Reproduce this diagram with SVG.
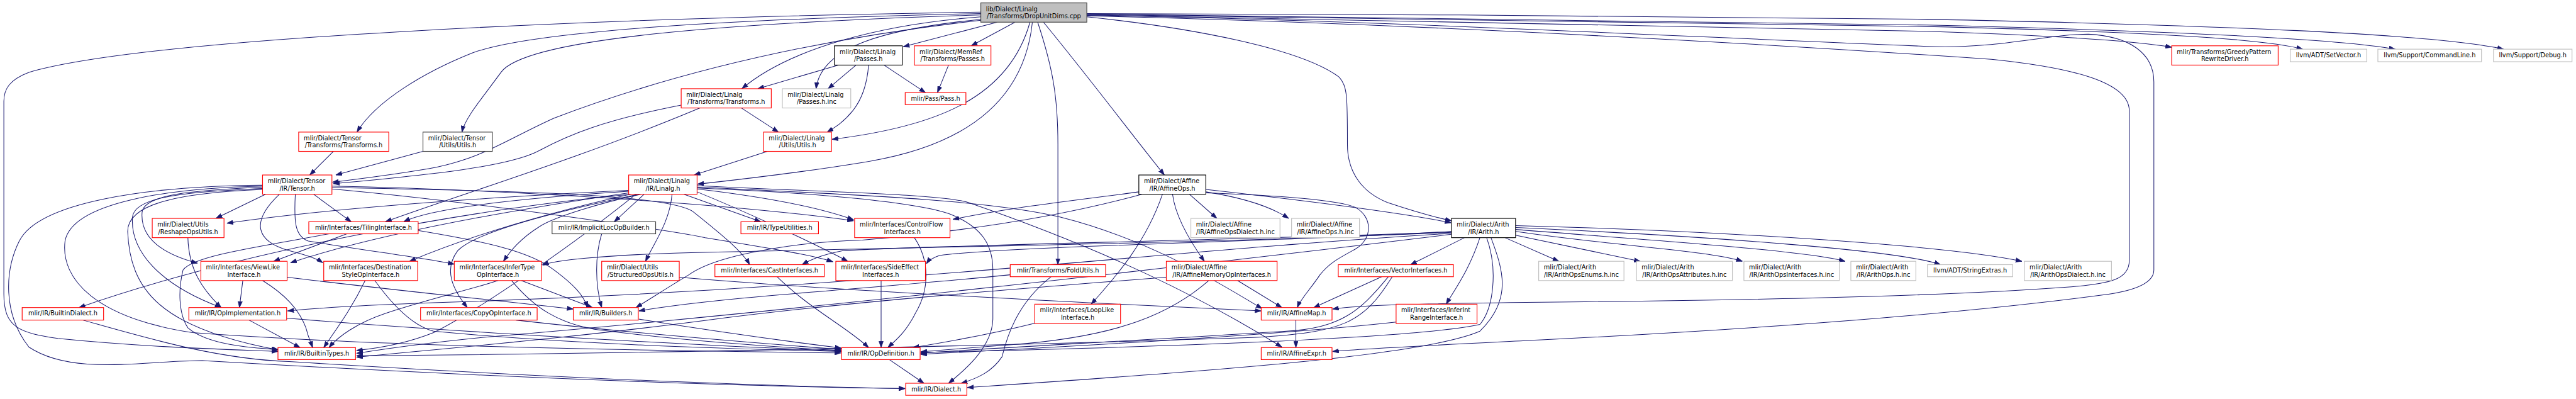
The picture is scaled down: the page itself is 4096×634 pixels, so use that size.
<svg xmlns="http://www.w3.org/2000/svg" width="4096" height="634" viewBox="0 0 4096 634">
<defs>
<marker id="arr" viewBox="0 0 13 10" refX="13" refY="5" markerWidth="13" markerHeight="10" markerUnits="userSpaceOnUse" orient="auto"><path d="M0,0.5 L13,5 L0,9.5 Z" fill="#191970" stroke="#191970" stroke-width="1"/></marker>
</defs>
<style>
.n rect{fill:#fff;stroke-width:1.5}
.r rect{stroke:#ff0000}
.g rect{stroke:#bfbfbf}
.k rect{stroke:#000}
.d rect{stroke:#404040}
.root rect{fill:#bfbfbf;stroke:#404040}
text{font-family:"DejaVu Sans","Liberation Sans",sans-serif;font-size:12.8px;fill:#000}
.m{text-anchor:middle}
#edges path{fill:none;stroke:#191970;stroke-width:1.35;marker-end:url(#arr)}
</style>
<rect width="4096" height="634" fill="#fff"/>
<g transform="scale(0.766)">
<g id="edges">
<path d="M2070,46 L1875,97"/>
<path d="M2107,46 L2016,95"/>
<path d="M2036,40 C1840,60 1705,95 1694,184"/>
<path d="M2036,35 C1830,50 1640,100 1540,184"/>
<path d="M2138,46 C2095,200 1950,262 1727,289"/>
<path d="M2143,46 C2128,190 2030,300 1790,337 C1650,360 1520,374 1448,382"/>
<path d="M2036,28 C1500,40 1100,65 980,110 C880,150 780,210 741,274"/>
<path d="M2036,31 C1500,48 1090,80 1040,150 C1000,205 965,245 959,274"/>
<path d="M2036,42 C1700,80 1400,150 1150,245 C1050,290 1000,330 890,350 C800,365 740,372 690,378"/>
<path d="M2036,25 C1200,38 300,80 60,150 C20,165 8,185 8,210 L8,610 C8,680 40,690 120,702 C300,720 450,724 577,729"/>
<path d="M2166,46 C2260,160 2350,280 2417,363"/>
<path d="M2154,46 C2185,140 2196,200 2196,300 L2196,549"/>
<path d="M2256,35 C2470,57 2700,100 2780,160 C2797,180 2797,200 2797,300 C2797,360 2830,400 2880,420 C2940,440 2985,452 3013,458"/>
<path d="M2256,33 C2800,45 3500,80 4134,123 C4300,140 4420,170 4420,230 L4420,540 C4420,580 4380,588 4300,595 C4000,618 3500,624 3200,627 C2950,630 2830,632 2766,641"/>
<path d="M2256,32 C2800,40 3400,72 4019,97 C4150,100 4250,71 4335,71 C4420,75 4471,110 4471,170 L4471,560 C4471,590 4420,605 4364,612 C4000,660 3500,690 3200,705 C3000,715 2850,722 2766,729"/>
<path d="M2256,31 C2800,38 3400,50 4000,65 C4300,75 4450,88 4508,98"/>
<path d="M2256,30 C2800,35 3400,42 4000,55 C4450,66 4700,80 4780,102"/>
<path d="M2256,29 C2800,33 3400,40 4000,52 C4500,64 4850,80 4972,102"/>
<path d="M2256,28 C2800,30 3500,32 4000,40 C4600,52 5050,70 5197,102"/>
<path d="M1835,135 L1921,192"/>
<path d="M1777,135 L1719,184"/>
<path d="M1740,135 L1573,184"/>
<path d="M1803,135 C1800,175 1790,205 1770,230 C1750,255 1730,266 1717,274"/>
<path d="M1969,135 L1946,192"/>
<path d="M1539,224 L1616,274"/>
<path d="M1414,218 C1250,250 1180,280 1120,312 C1060,345 900,362 692,381"/>
<path d="M1453,224 C1200,330 950,405 800,460"/>
<path d="M1593,314 L1441,363"/>
<path d="M692,314 L643,363"/>
<path d="M878,314 L697,363"/>
<path d="M551,403 L448,453"/>
<path d="M651,403 L729,460"/>
<path d="M580,403 C520,460 530,500 600,520 C640,530 660,538 670,545"/>
<path d="M613,403 C610,460 612,490 640,500 C760,520 880,535 943,548"/>
<path d="M545,388 C420,395 300,400 295,440 C290,500 350,530 410,546"/>
<path d="M545,391 C400,398 280,405 275,450 C270,520 330,590 459,638"/>
<path d="M545,393 C380,400 265,420 265,480 C270,600 330,680 578,726"/>
<path d="M545,386 C350,390 150,420 135,500 C125,580 200,660 400,690 C800,720 1400,728 1746,732"/>
<path d="M545,384 C300,386 80,420 40,500 C10,560 5,650 60,720 C150,780 300,748 420,748 C800,770 1400,800 1879,806"/>
<path d="M689,389 C1000,395 1390,400 1440,440 C1490,480 1540,520 1556,549"/>
<path d="M689,386 C1000,392 1500,420 1772,458"/>
<path d="M689,392 C1000,420 1400,480 1464,493 C1600,515 1690,530 1729,543"/>
<path d="M1305,395 C1000,410 700,430 471,463"/>
<path d="M1305,397 C1100,410 900,430 838,460"/>
<path d="M1305,400 C1100,430 800,480 603,545"/>
<path d="M1308,403 C1100,450 950,500 850,542"/>
<path d="M1310,403 C1000,430 500,520 164,638"/>
<path d="M1325,403 C1150,440 990,480 950,520 C920,560 940,600 970,638"/>
<path d="M1330,403 C1250,420 1150,450 1120,470 C1080,495 1060,520 1045,542"/>
<path d="M1337,403 L1275,460"/>
<path d="M1420,403 L1579,460"/>
<path d="M1395,403 C1390,460 1360,500 1340,542"/>
<path d="M1447,392 C1600,410 1700,430 1772,456"/>
<path d="M1447,398 C1550,440 1680,500 1760,542"/>
<path d="M1320,403 C1200,500 1000,640 900,690 C850,710 790,722 740,727"/>
<path d="M1447,390 C1700,400 1900,420 1969,443 C2040,470 2061,510 2061,560 L2061,660 C2061,720 2000,770 1969,795"/>
<path d="M1447,385 C1700,398 1950,402 2010,420 C2300,520 2500,620 2661,720"/>
<path d="M1447,388 C1800,405 2050,415 2200,450 C2400,500 2550,600 2620,640"/>
<path d="M2469,403 L2526,453"/>
<path d="M2503,398 C2580,410 2640,430 2675,453"/>
<path d="M2434,403 C2440,450 2470,500 2500,542"/>
<path d="M2413,403 C2380,500 2320,570 2265,631"/>
<path d="M2503,393 C2700,415 2900,440 3012,462"/>
<path d="M2503,400 C2650,405 2780,415 2813,430 C2850,450 2850,495 2813,517 C2780,535 2760,545 2740,570 C2720,600 2700,620 2693,638"/>
<path d="M2364,398 C2200,420 2100,430 1978,455"/>
<path d="M2370,403 C2200,450 2000,480 1790,498 C1700,500 1500,520 1430,570 C1380,600 1350,620 1320,638"/>
<path d="M3040,493 L2928,549"/>
<path d="M3072,493 C3050,560 3020,600 3002,631"/>
<path d="M3124,493 L3236,542"/>
<path d="M3146,488 L3405,542"/>
<path d="M3146,480 C3350,510 3550,520 3617,542"/>
<path d="M3146,476 C3450,500 3750,520 3830,542"/>
<path d="M3146,472 C3550,490 3950,520 4028,549"/>
<path d="M3146,468 C3600,480 4050,510 4197,542"/>
<path d="M3095,493 C3120,560 3140,620 3072,687 C2950,740 2500,770 2008,804"/>
<path d="M3086,493 C3110,560 3100,640 3072,673 C2950,700 2500,718 1911,731"/>
<path d="M3013,480 C2700,500 2100,510 1950,530 C1935,535 1928,540 1923,547"/>
<path d="M3013,482 C2500,505 1800,515 1400,525 C1250,530 1150,540 1126,550"/>
<path d="M3013,481 C2500,500 1900,510 1750,520 C1700,530 1680,540 1665,549"/>
<path d="M3013,484 C2400,520 1800,600 900,628 C750,633 650,640 597,645"/>
<path d="M3013,486 C2400,560 1600,650 1000,700 C850,715 790,725 740,733"/>
<path d="M2868,574 L2727,638"/>
<path d="M2890,574 C2830,670 2790,690 2600,700 C2000,720 1200,735 740,738"/>
<path d="M2882,574 C2820,650 2780,680 2670,687 C2300,710 2000,725 1911,733"/>
<path d="M2898,668 C2700,690 2300,715 1911,735"/>
<path d="M2569,582 L2661,638"/>
<path d="M2509,582 C2420,660 2300,700 2100,715 C2000,722 1950,727 1911,730"/>
<path d="M2421,575 C2100,600 1780,625 1500,660 C1200,700 900,725 740,741"/>
<path d="M2150,670 C2050,695 1950,712 1895,721"/>
<path d="M2182,574 C2110,630 2090,700 2080,740 C2060,770 2030,785 1995,795"/>
<path d="M2097,570 C1800,600 1500,615 1326,645"/>
<path d="M1898,493 C1930,540 1930,600 1900,650 C1880,690 1860,705 1843,721"/>
<path d="M1829,582 L1829,721"/>
<path d="M1613,574 C1680,640 1760,680 1803,721"/>
<path d="M1410,575 C1700,600 2100,620 2300,630 C2450,637 2550,642 2618,645"/>
<path d="M1082,582 L1230,638"/>
<path d="M1034,582 C980,600 900,617 800,650 C740,670 700,700 683,721"/>
<path d="M1062,582 C1110,640 1160,670 1234,683 C1400,705 1600,720 1746,727"/>
<path d="M758,582 C730,640 700,680 672,721"/>
<path d="M778,582 C820,640 860,677 900,687 C1200,715 1500,723 1746,729"/>
<path d="M504,582 L497,638"/>
<path d="M545,582 C590,610 620,640 635,680 C640,700 645,710 649,721"/>
<path d="M596,575 C800,600 1000,620 1190,641"/>
<path d="M390,493 C392,560 420,600 459,638"/>
<path d="M720,485 L568,542"/>
<path d="M868,478 C1000,500 1100,520 1150,560 C1190,590 1210,610 1220,638"/>
<path d="M683,485 C550,510 400,530 380,560 C370,600 370,650 390,680 C430,715 520,722 577,725"/>
<path d="M517,664 L623,721"/>
<path d="M595,660 C900,685 1400,715 1746,728"/>
<path d="M172,664 C300,700 450,745 600,750 C1000,775 1500,800 1879,806"/>
<path d="M1071,664 C1300,690 1550,710 1746,725"/>
<path d="M1326,662 C1500,690 1650,710 1746,722"/>
<path d="M1846,746 L1918,795"/>
<path d="M1249,485 C1235,530 1235,590 1249,638"/>
<path d="M2690,664 L2690,721"/>
</g>
<g id="n-root" class="n root"><rect x="2036" y="6" width="220" height="40"/><text x="2046.7" y="23">lib/Dialect/Linalg</text><text class="m" x="2146" y="38">/Transforms/DropUnitDims.cpp</text></g>
<g id="n-linalg-passes" class="n k"><rect x="1732" y="95" width="141" height="40"/><text x="1742.7" y="112">mlir/Dialect/Linalg</text><text class="m" x="1802.5" y="127">/Passes.h</text></g>
<g id="n-memref-passes" class="n r"><rect x="1898" y="95" width="159" height="40"/><text x="1908.7" y="112">mlir/Dialect/MemRef</text><text class="m" x="1977.5" y="127">/Transforms/Passes.h</text></g>
<g id="n-greedy" class="n r"><rect x="4508" y="95" width="221" height="40"/><text x="4518.7" y="112">mlir/Transforms/GreedyPattern</text><text class="m" x="4618.5" y="127">RewriteDriver.h</text></g>
<g id="n-setvector" class="n g"><rect x="4754" y="102" width="159" height="26"/><text class="m" x="4833.5" y="118.5">llvm/ADT/SetVector.h</text></g>
<g id="n-commandline" class="n g"><rect x="4936" y="102" width="215" height="26"/><text class="m" x="5043.5" y="118.5">llvm/Support/CommandLine.h</text></g>
<g id="n-debug" class="n g"><rect x="5176" y="102" width="163" height="26"/><text class="m" x="5257.5" y="118.5">llvm/Support/Debug.h</text></g>
<g id="n-linalg-transforms" class="n r"><rect x="1414" y="184" width="187" height="40"/><text x="1424.7" y="201">mlir/Dialect/Linalg</text><text class="m" x="1507.5" y="216">/Transforms/Transforms.h</text></g>
<g id="n-passes-inc" class="n g"><rect x="1624" y="184" width="142" height="40"/><text x="1634.7" y="201">mlir/Dialect/Linalg</text><text class="m" x="1695" y="216">/Passes.h.inc</text></g>
<g id="n-pass" class="n r"><rect x="1879" y="192" width="126" height="25"/><text class="m" x="1942" y="208.5">mlir/Pass/Pass.h</text></g>
<g id="n-tensor-transforms" class="n r"><rect x="620" y="274" width="187" height="40"/><text x="630.7" y="291">mlir/Dialect/Tensor</text><text class="m" x="713.5" y="306">/Transforms/Transforms.h</text></g>
<g id="n-tensor-utils" class="n d"><rect x="878" y="274" width="144" height="40"/><text x="888.7" y="291">mlir/Dialect/Tensor</text><text class="m" x="950" y="306">/Utils/Utils.h</text></g>
<g id="n-linalg-utils" class="n r"><rect x="1585" y="274" width="141" height="40"/><text x="1595.7" y="291">mlir/Dialect/Linalg</text><text class="m" x="1655.5" y="306">/Utils/Utils.h</text></g>
<g id="n-tensor" class="n r"><rect x="545" y="363" width="144" height="40"/><text x="555.7" y="380">mlir/Dialect/Tensor</text><text class="m" x="617" y="395">/IR/Tensor.h</text></g>
<g id="n-linalg" class="n r"><rect x="1305" y="363" width="142" height="40"/><text x="1315.7" y="380">mlir/Dialect/Linalg</text><text class="m" x="1376" y="395">/IR/Linalg.h</text></g>
<g id="n-affineops" class="n k"><rect x="2364" y="363" width="139" height="40"/><text x="2374.7" y="380">mlir/Dialect/Affine</text><text class="m" x="2433.5" y="395">/IR/AffineOps.h</text></g>
<g id="n-reshape" class="n r"><rect x="316" y="453" width="149" height="40"/><text x="326.7" y="470">mlir/Dialect/Utils</text><text class="m" x="390.5" y="485">/ReshapeOpsUtils.h</text></g>
<g id="n-tiling" class="n r"><rect x="641" y="460" width="227" height="25"/><text class="m" x="754.5" y="476.5">mlir/Interfaces/TilingInterface.h</text></g>
<g id="n-implicitloc" class="n d"><rect x="1146" y="460" width="215" height="25"/><text class="m" x="1253.5" y="476.5">mlir/IR/ImplicitLocOpBuilder.h</text></g>
<g id="n-typeutil" class="n r"><rect x="1538" y="460" width="161" height="25"/><text class="m" x="1618.5" y="476.5">mlir/IR/TypeUtilities.h</text></g>
<g id="n-controlflow" class="n r"><rect x="1774" y="453" width="198" height="40"/><text x="1784.7" y="470">mlir/Interfaces/ControlFlow</text><text class="m" x="1873" y="485">Interfaces.h</text></g>
<g id="n-affinedialect-inc" class="n g"><rect x="2472" y="453" width="185" height="40"/><text x="2482.7" y="470">mlir/Dialect/Affine</text><text class="m" x="2564.5" y="485">/IR/AffineOpsDialect.h.inc</text></g>
<g id="n-affineops-inc" class="n g"><rect x="2681" y="453" width="141" height="40"/><text x="2691.7" y="470">mlir/Dialect/Affine</text><text class="m" x="2751.5" y="485">/IR/AffineOps.h.inc</text></g>
<g id="n-arith" class="n k"><rect x="3013" y="453" width="133" height="40"/><text x="3023.7" y="470">mlir/Dialect/Arith</text><text class="m" x="3079.5" y="485">/IR/Arith.h</text></g>
<g id="n-viewlike" class="n r"><rect x="417" y="542" width="179" height="40"/><text x="427.7" y="559">mlir/Interfaces/ViewLike</text><text class="m" x="506.5" y="574">Interface.h</text></g>
<g id="n-dststyle" class="n r"><rect x="672" y="542" width="195" height="40"/><text x="682.7" y="559">mlir/Interfaces/Destination</text><text class="m" x="769.5" y="574">StyleOpInterface.h</text></g>
<g id="n-infertype" class="n r"><rect x="943" y="542" width="181" height="40"/><text x="953.7" y="559">mlir/Interfaces/InferType</text><text class="m" x="1033.5" y="574">OpInterface.h</text></g>
<g id="n-structured" class="n r"><rect x="1249" y="542" width="161" height="40"/><text x="1259.7" y="559">mlir/Dialect/Utils</text><text class="m" x="1329.5" y="574">/StructuredOpsUtils.h</text></g>
<g id="n-cast" class="n r"><rect x="1484" y="549" width="227" height="25"/><text class="m" x="1597.5" y="565.5">mlir/Interfaces/CastInterfaces.h</text></g>
<g id="n-sideeffect" class="n r"><rect x="1735" y="542" width="186" height="40"/><text x="1745.7" y="559">mlir/Interfaces/SideEffect</text><text class="m" x="1828" y="574">Interfaces.h</text></g>
<g id="n-foldutils" class="n r"><rect x="2097" y="549" width="198" height="25"/><text class="m" x="2196" y="565.5">mlir/Transforms/FoldUtils.h</text></g>
<g id="n-affinemem" class="n r"><rect x="2421" y="542" width="230" height="40"/><text x="2431.7" y="559">mlir/Dialect/Affine</text><text class="m" x="2536" y="574">/IR/AffineMemoryOpInterfaces.h</text></g>
<g id="n-vector" class="n r"><rect x="2778" y="549" width="239" height="25"/><text class="m" x="2897.5" y="565.5">mlir/Interfaces/VectorInterfaces.h</text></g>
<g id="n-enums-inc" class="n g"><rect x="3194" y="542" width="177" height="40"/><text x="3204.7" y="559">mlir/Dialect/Arith</text><text class="m" x="3282.5" y="574">/IR/ArithOpsEnums.h.inc</text></g>
<g id="n-attrs-inc" class="n g"><rect x="3397" y="542" width="199" height="40"/><text x="3407.7" y="559">mlir/Dialect/Arith</text><text class="m" x="3496.5" y="574">/IR/ArithOpsAttributes.h.inc</text></g>
<g id="n-ifaces-inc" class="n g"><rect x="3620" y="542" width="198" height="40"/><text x="3630.7" y="559">mlir/Dialect/Arith</text><text class="m" x="3719" y="574">/IR/ArithOpsInterfaces.h.inc</text></g>
<g id="n-arithops-inc" class="n g"><rect x="3842" y="542" width="135" height="40"/><text x="3852.7" y="559">mlir/Dialect/Arith</text><text class="m" x="3909.5" y="574">/IR/ArithOps.h.inc</text></g>
<g id="n-stringextras" class="n g"><rect x="4001" y="549" width="177" height="25"/><text class="m" x="4089.5" y="565.5">llvm/ADT/StringExtras.h</text></g>
<g id="n-arithdialect-inc" class="n g"><rect x="4202" y="542" width="181" height="40"/><text x="4212.7" y="559">mlir/Dialect/Arith</text><text class="m" x="4292.5" y="574">/IR/ArithOpsDialect.h.inc</text></g>
<g id="n-builtindialect" class="n r"><rect x="46" y="638" width="169" height="26"/><text class="m" x="130.5" y="654.5">mlir/IR/BuiltinDialect.h</text></g>
<g id="n-opimpl" class="n r"><rect x="392" y="638" width="203" height="26"/><text class="m" x="493.5" y="654.5">mlir/IR/OpImplementation.h</text></g>
<g id="n-copyop" class="n r"><rect x="873" y="638" width="242" height="26"/><text class="m" x="994" y="654.5">mlir/Interfaces/CopyOpInterface.h</text></g>
<g id="n-builders" class="n r"><rect x="1190" y="638" width="135" height="26"/><text class="m" x="1257.5" y="654.5">mlir/IR/Builders.h</text></g>
<g id="n-looplike" class="n r"><rect x="2148" y="631" width="178" height="40"/><text x="2158.7" y="648">mlir/Interfaces/LoopLike</text><text class="m" x="2237" y="663">Interface.h</text></g>
<g id="n-affinemap" class="n r"><rect x="2618" y="638" width="147" height="26"/><text class="m" x="2691.5" y="654.5">mlir/IR/AffineMap.h</text></g>
<g id="n-inferint" class="n r"><rect x="2898" y="631" width="168" height="40"/><text x="2908.7" y="648">mlir/Interfaces/InferInt</text><text class="m" x="2982" y="663">RangeInterface.h</text></g>
<g id="n-builtintypes" class="n r"><rect x="577" y="721" width="161" height="25"/><text class="m" x="657.5" y="737.5">mlir/IR/BuiltinTypes.h</text></g>
<g id="n-opdef" class="n r"><rect x="1747" y="721" width="163" height="25"/><text class="m" x="1828.5" y="737.5">mlir/IR/OpDefinition.h</text></g>
<g id="n-affineexpr" class="n r"><rect x="2618" y="721" width="147" height="25"/><text class="m" x="2691.5" y="737.5">mlir/IR/AffineExpr.h</text></g>
<g id="n-dialect" class="n r"><rect x="1880" y="795" width="127" height="25"/><text class="m" x="1943.5" y="811.5">mlir/IR/Dialect.h</text></g>
</g>
</svg>
